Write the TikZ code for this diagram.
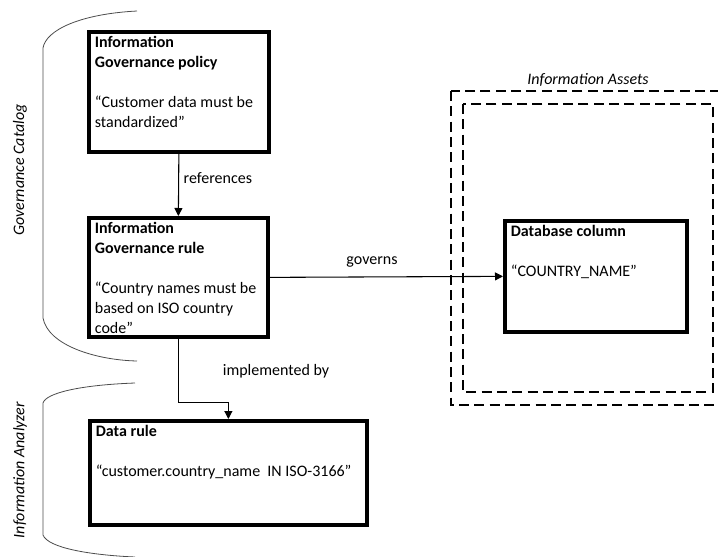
\documentclass[tikz,border=0pt]{standalone}
\usepackage{fontspec}
\setmainfont{Carlito}
\usetikzlibrary{arrows.meta}

\newcommand{\boxtxt}[3]{\parbox[c][#2][t]{#1}{#3}}

\begin{document}
\begin{tikzpicture}[x=0.75pt,y=-0.75pt,
  font=\fontsize{12}{15}\selectfont,
  thickbox/.style={draw,line width=2.8pt,inner xsep=4.5pt,inner ysep=3pt,anchor=north west},
  conn/.style={line width=0.8pt,-{Triangle[length=6pt,width=6pt]}},
  brace/.style={line width=0.6pt,black!70},
  region/.style={line width=1.1pt,dash pattern=on 7.5pt off 4pt}]

\useasboundingbox (0,0) rectangle (718,557);

% left brackets
\draw[brace] (137,11) .. controls (80,14) and (46,30) .. (43,48) -- (43,318)
  .. controls (48,345) and (95,360) .. (137,361);
\draw[brace] (135,383) .. controls (80,385) and (46,393) .. (43,403) -- (43,535)
  .. controls (48,548) and (90,555) .. (135,557);
\node[rotate=90,font=\fontsize{12}{15}\selectfont\itshape] (gcat) at (20,170) {Governance Catalog};
\node[rotate=90,font=\fontsize{12}{15}\selectfont\itshape] (ian) at (20,470) {Information Analyzer};

% assets
\draw[region] (451,91) rectangle (724,405);
\draw[region] (463,104) rectangle (713,392);
\node[font=\fontsize{12}{15}\selectfont\itshape] (assets) at (588,80) {Information Assets};

\node[thickbox] (pol) at (87,30) {\boxtxt{126pt}{84pt}{%
  \textbf{Information}\\\textbf{Governance policy}\\[15pt]%
  “Customer data must be\\standardized”}};
\node[thickbox] (rule) at (87,216) {\boxtxt{125.25pt}{83.25pt}{%
  \textbf{Information}\\\textbf{Governance rule}\\[15pt]%
  “Country names must be\\based on ISO country\\code”}};
\node[thickbox] (drule) at (88,419) {\boxtxt{198.75pt}{72pt}{%
  \textbf{Data rule}\\[15pt]%
  “customer.country\_name~ IN ISO-3166”}};
\node[thickbox] (dbcol) at (503,219) {\boxtxt{127.5pt}{77.25pt}{%
  \textbf{Database column}\\[15pt]%
  “COUNTRY\_NAME”}};

\draw[conn] (pol.south) -- (rule.north);
\node[anchor=west] (refs) at (179,178) {references};

\draw[conn] (rule.east) -- (dbcol.west);
\node (gov) at (372,262) {governs};

\draw[conn] (rule.south) -- ++(0,64) -| (drule.north);
\node (impl) at (276,371) {implemented by};

\end{tikzpicture}
\end{document}
